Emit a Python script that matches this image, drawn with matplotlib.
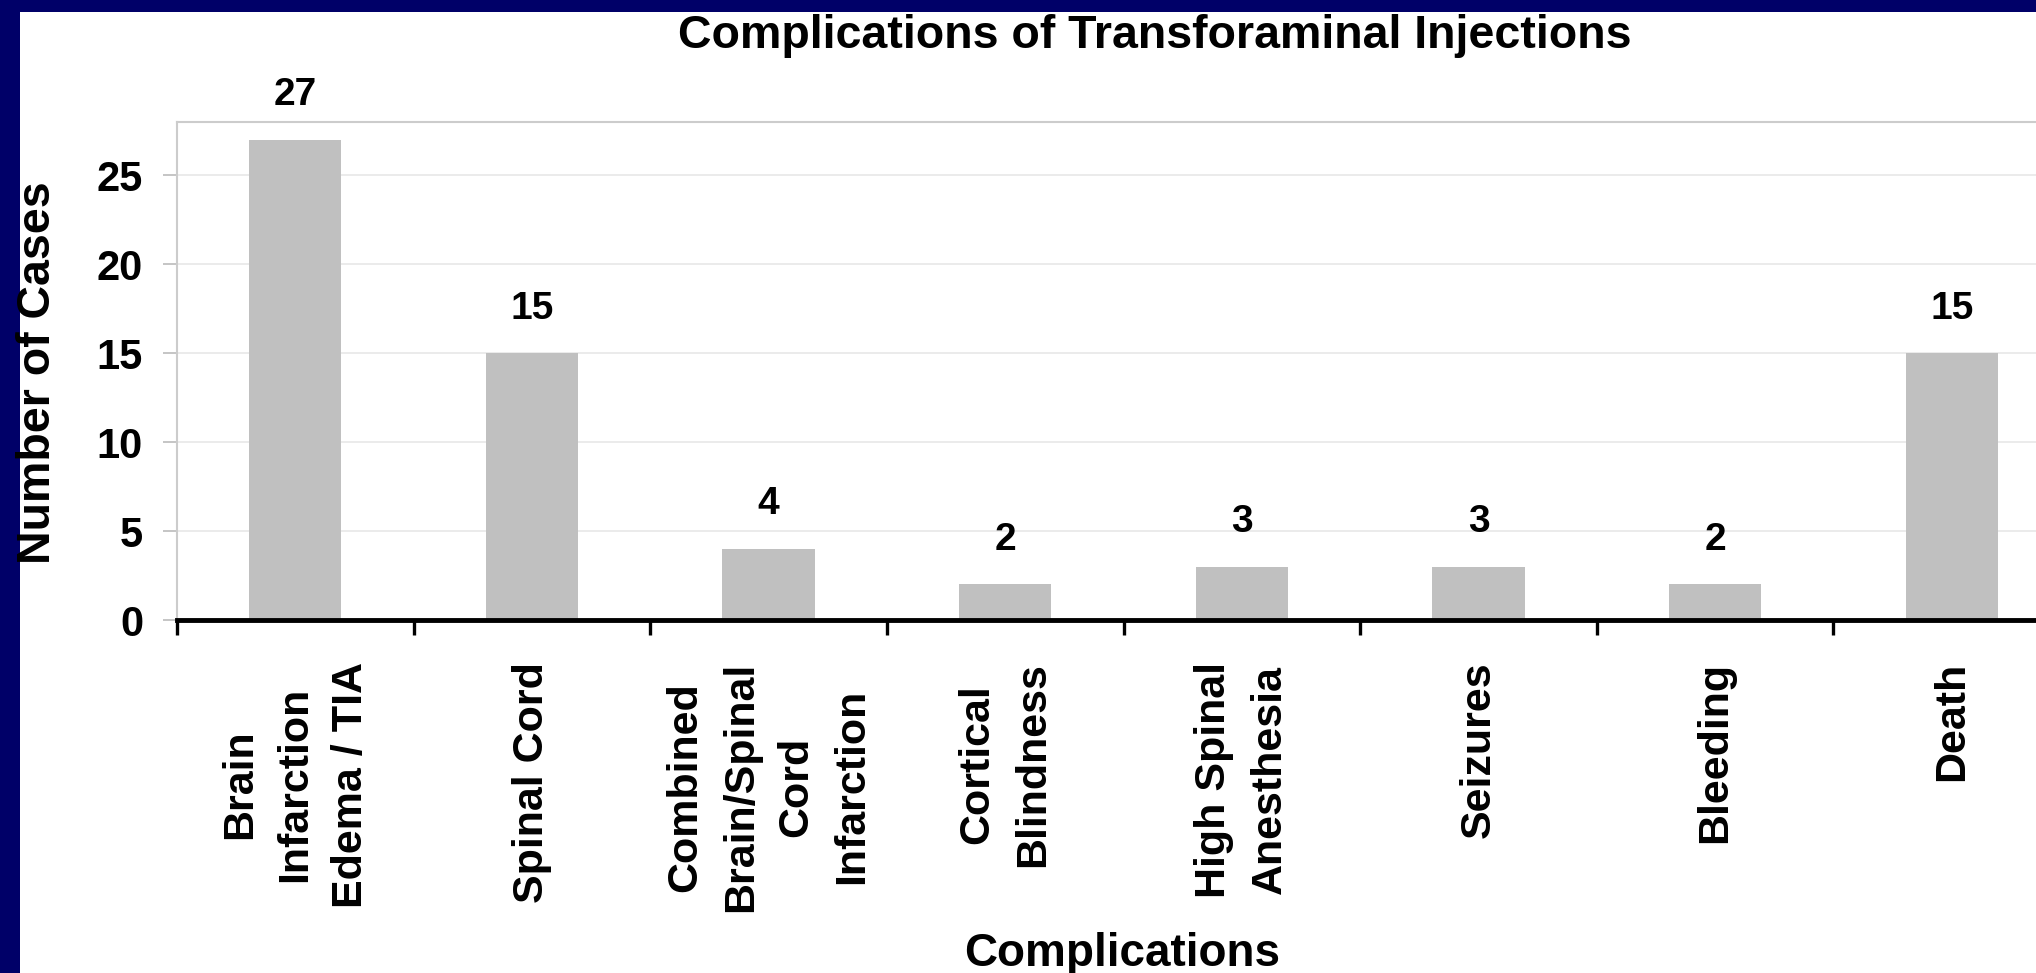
import matplotlib
matplotlib.use("Agg")
import matplotlib.pyplot as plt
from matplotlib.patches import Rectangle
import numpy as np

categories = [
    "Brain\nInfarction\nEdema / TIA",
    "Spinal Cord",
    "Combined\nBrain/Spinal\nCord\nInfarction",
    "Cortical\nBlindness",
    "High Spinal\nAnesthesia",
    "Seizures",
    "Bleeding",
    "Death",
]
cases = [27, 15, 4, 2, 3, 3, 2, 15]
yticks = [0, 5, 10, 15, 20, 25]

plt.rcParams['font.family'] = ['Liberation Sans', 'DejaVu Sans']
plt.rcParams['font.weight'] = 'bold'

W, H = 2036, 973
fig = plt.figure(figsize=(W / 100, H / 100), dpi=100)
fig.patch.set_facecolor('white')

navy = '#000068'
fig.patches.append(Rectangle((0, 1 - 12 / H), 1, 12 / H, transform=fig.transFigure,
                             facecolor=navy, edgecolor='none', zorder=0))
fig.patches.append(Rectangle((0, 0), 20 / W, 1, transform=fig.transFigure,
                             facecolor=navy, edgecolor='none', zorder=0))

ax_left = 177
ax_w = 1893
ax_bottom = 620
ax_top = 122
ax = fig.add_axes([ax_left / W, 1 - ax_bottom / H, ax_w / W, (ax_bottom - ax_top) / H])

x = np.arange(len(categories))
ax.bar(x, cases, width=0.39, color='#C0C0C0', zorder=2)
for xi, v in zip(x, cases):
    ax.annotate(str(v), (xi, v), xytext=(0, 19), textcoords='offset points',
                ha='center', va='bottom', fontsize=28, fontweight='bold', color='black')

ax.set_xlim(-0.5, len(categories) - 0.5)
ax.set_ylim(0, 28)
ax.set_yticks(yticks)
ax.set_yticklabels([str(t) for t in yticks], fontsize=30, fontweight='bold')
ax.tick_params(axis='y', length=10, width=1.2, color='#bbbbbb', pad=14.4, direction='out')
ax.yaxis.grid(True, color='#e8e8e8', linewidth=1.2, zorder=0)
ax.set_axisbelow(True)

ax.set_xticks(x)
ax.set_xticklabels(categories, rotation=90, fontsize=31, fontweight='bold',
                   ha='center', va='top', linespacing=1.5)
ax.tick_params(axis='x', which='major', length=0, pad=30)
ax.set_xticks(np.arange(-0.5, len(categories), 1.0), minor=True)
ax.tick_params(axis='x', which='minor', length=11, width=2.4, color='black', direction='out')

for s in ['left', 'top', 'right']:
    ax.spines[s].set_color('#cccccc')
    ax.spines[s].set_linewidth(1.5)
ax.spines['bottom'].set_color('black')
ax.spines['bottom'].set_linewidth(3.5)

ax.set_title('Complications of Transforaminal Injections', fontsize=33.5, fontweight='bold',
             x=(1155 - ax_left) / ax_w, y=1.0, pad=53)

fig.text(1122 / W, 1 - 966 / H, 'Complications', ha='center', va='baseline',
         fontsize=33, fontweight='bold')
fig.text(38.5 / W, 1 - 373 / H, 'Number of Cases', ha='center', va='center',
         rotation=90, fontsize=33.5, fontweight='bold')

fig.savefig('out.png', dpi=100, facecolor='white')
